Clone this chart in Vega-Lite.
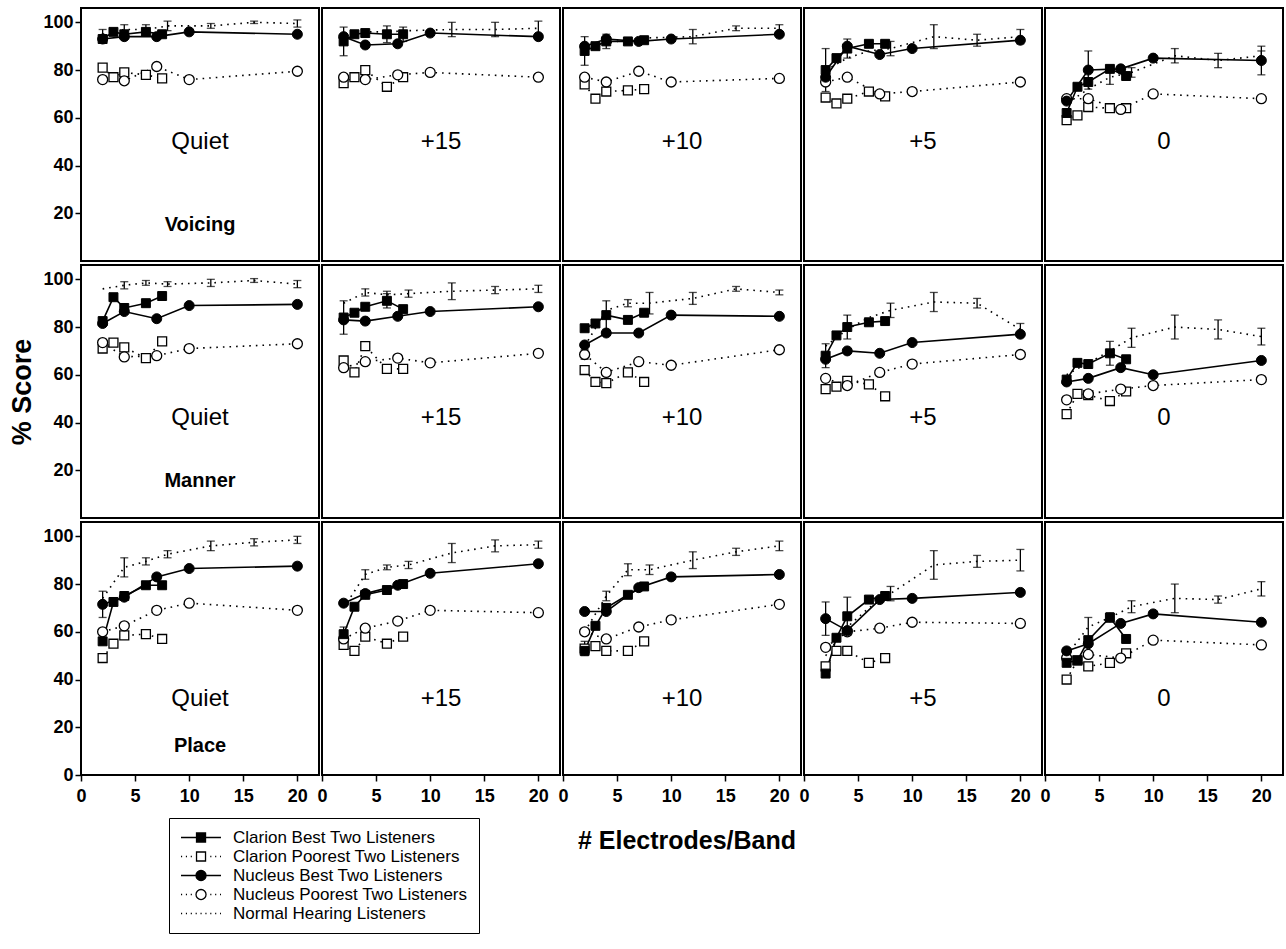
{
"$schema": "https://vega.github.io/schema/vega-lite/v6.json",
"padding": {"left": 8, "top": 7, "right": 2, "bottom": 2},
"background": "white",
"config": {
 "font": "Liberation Sans",
 "view": {"stroke": "black", "strokeWidth": 2},
 "axis": {"grid": false, "domain": false, "ticks": true, "tickColor": "black", "tickWidth": 1.5, "tickSize": 6, "labelColor": "black", "labelFont": "Liberation Sans", "labelFontWeight": "bold", "labelFontSize": 18, "labelPadding": 2, "titleColor": "black", "titleFont": "Liberation Sans", "titleFontSize": 27, "titleFontWeight": "bold", "titlePadding": 6}
},
"datasets": {"d": [
{"f":"Voicing","c":"Quiet","s":"CB","n":2,"v":93},{"f":"Voicing","c":"Quiet","s":"CB","n":3,"v":96},{"f":"Voicing","c":"Quiet","s":"CB","n":4,"v":95},{"f":"Voicing","c":"Quiet","s":"CB","n":6,"v":96},{"f":"Voicing","c":"Quiet","s":"CB","n":7.5,"v":95},
{"f":"Voicing","c":"Quiet","s":"NB","n":2,"v":93},{"f":"Voicing","c":"Quiet","s":"NB","n":4,"v":94},{"f":"Voicing","c":"Quiet","s":"NB","n":7,"v":94},{"f":"Voicing","c":"Quiet","s":"NB","n":10,"v":96},{"f":"Voicing","c":"Quiet","s":"NB","n":20,"v":95},
{"f":"Voicing","c":"Quiet","s":"CP","n":2,"v":81},{"f":"Voicing","c":"Quiet","s":"CP","n":3,"v":77},{"f":"Voicing","c":"Quiet","s":"CP","n":4,"v":79},{"f":"Voicing","c":"Quiet","s":"CP","n":6,"v":78},{"f":"Voicing","c":"Quiet","s":"CP","n":7.5,"v":76.5},
{"f":"Voicing","c":"Quiet","s":"NP","n":2,"v":76},{"f":"Voicing","c":"Quiet","s":"NP","n":4,"v":75.5},{"f":"Voicing","c":"Quiet","s":"NP","n":7,"v":81.5},{"f":"Voicing","c":"Quiet","s":"NP","n":10,"v":76},{"f":"Voicing","c":"Quiet","s":"NP","n":20,"v":79.5},
{"f":"Voicing","c":"Quiet","s":"NH","n":2,"v":95,"e":2},{"f":"Voicing","c":"Quiet","s":"NH","n":4,"v":97,"e":2},{"f":"Voicing","c":"Quiet","s":"NH","n":6,"v":97,"e":2},{"f":"Voicing","c":"Quiet","s":"NH","n":8,"v":98.5,"e":2},{"f":"Voicing","c":"Quiet","s":"NH","n":12,"v":98.5,"e":1},{"f":"Voicing","c":"Quiet","s":"NH","n":16,"v":100,"e":0.5},{"f":"Voicing","c":"Quiet","s":"NH","n":20,"v":99.5,"e":1.5},
{"f":"Voicing","c":"+15","s":"CB","n":2,"v":92,"e":6},{"f":"Voicing","c":"+15","s":"CB","n":3,"v":95},{"f":"Voicing","c":"+15","s":"CB","n":4,"v":95.5},{"f":"Voicing","c":"+15","s":"CB","n":6,"v":95,"e":3.5},{"f":"Voicing","c":"+15","s":"CB","n":7.5,"v":95,"e":3},
{"f":"Voicing","c":"+15","s":"NB","n":2,"v":94},{"f":"Voicing","c":"+15","s":"NB","n":4,"v":90.5},{"f":"Voicing","c":"+15","s":"NB","n":7,"v":91},{"f":"Voicing","c":"+15","s":"NB","n":10,"v":95.5},{"f":"Voicing","c":"+15","s":"NB","n":20,"v":94},
{"f":"Voicing","c":"+15","s":"CP","n":2,"v":74.5},{"f":"Voicing","c":"+15","s":"CP","n":3,"v":77},{"f":"Voicing","c":"+15","s":"CP","n":4,"v":80},{"f":"Voicing","c":"+15","s":"CP","n":6,"v":73},{"f":"Voicing","c":"+15","s":"CP","n":7.5,"v":77},
{"f":"Voicing","c":"+15","s":"NP","n":2,"v":77},{"f":"Voicing","c":"+15","s":"NP","n":4,"v":76},{"f":"Voicing","c":"+15","s":"NP","n":7,"v":78},{"f":"Voicing","c":"+15","s":"NP","n":10,"v":79},{"f":"Voicing","c":"+15","s":"NP","n":20,"v":77},
{"f":"Voicing","c":"+15","s":"NH","n":2,"v":95},{"f":"Voicing","c":"+15","s":"NH","n":4,"v":96},{"f":"Voicing","c":"+15","s":"NH","n":6,"v":96},{"f":"Voicing","c":"+15","s":"NH","n":8,"v":96.5},{"f":"Voicing","c":"+15","s":"NH","n":12,"v":97,"e":3},{"f":"Voicing","c":"+15","s":"NH","n":16,"v":97,"e":3},{"f":"Voicing","c":"+15","s":"NH","n":20,"v":97.5,"e":3},
{"f":"Voicing","c":"+10","s":"CB","n":2,"v":88,"e":6},{"f":"Voicing","c":"+10","s":"CB","n":3,"v":90},{"f":"Voicing","c":"+10","s":"CB","n":4,"v":92,"e":3},{"f":"Voicing","c":"+10","s":"CB","n":6,"v":92},{"f":"Voicing","c":"+10","s":"CB","n":7.5,"v":92.5},
{"f":"Voicing","c":"+10","s":"NB","n":2,"v":90},{"f":"Voicing","c":"+10","s":"NB","n":4,"v":93},{"f":"Voicing","c":"+10","s":"NB","n":7,"v":92},{"f":"Voicing","c":"+10","s":"NB","n":10,"v":93},{"f":"Voicing","c":"+10","s":"NB","n":20,"v":95},
{"f":"Voicing","c":"+10","s":"CP","n":2,"v":74},{"f":"Voicing","c":"+10","s":"CP","n":3,"v":68},{"f":"Voicing","c":"+10","s":"CP","n":4,"v":71},{"f":"Voicing","c":"+10","s":"CP","n":6,"v":71.5},{"f":"Voicing","c":"+10","s":"CP","n":7.5,"v":72},
{"f":"Voicing","c":"+10","s":"NP","n":2,"v":77},{"f":"Voicing","c":"+10","s":"NP","n":4,"v":75},{"f":"Voicing","c":"+10","s":"NP","n":7,"v":79.5},{"f":"Voicing","c":"+10","s":"NP","n":10,"v":75},{"f":"Voicing","c":"+10","s":"NP","n":20,"v":76.5},
{"f":"Voicing","c":"+10","s":"NH","n":2,"v":89},{"f":"Voicing","c":"+10","s":"NH","n":4,"v":91},{"f":"Voicing","c":"+10","s":"NH","n":6,"v":93},{"f":"Voicing","c":"+10","s":"NH","n":8,"v":93.5},{"f":"Voicing","c":"+10","s":"NH","n":12,"v":94,"e":3},{"f":"Voicing","c":"+10","s":"NH","n":16,"v":97.5,"e":1},{"f":"Voicing","c":"+10","s":"NH","n":20,"v":97.5,"e":1.5},
{"f":"Voicing","c":"+5","s":"CB","n":2,"v":80,"e":9},{"f":"Voicing","c":"+5","s":"CB","n":3,"v":85},{"f":"Voicing","c":"+5","s":"CB","n":4,"v":89,"e":4},{"f":"Voicing","c":"+5","s":"CB","n":6,"v":91},{"f":"Voicing","c":"+5","s":"CB","n":7.5,"v":91},
{"f":"Voicing","c":"+5","s":"NB","n":2,"v":77},{"f":"Voicing","c":"+5","s":"NB","n":4,"v":90},{"f":"Voicing","c":"+5","s":"NB","n":7,"v":86.5},{"f":"Voicing","c":"+5","s":"NB","n":10,"v":89},{"f":"Voicing","c":"+5","s":"NB","n":20,"v":92.5},
{"f":"Voicing","c":"+5","s":"CP","n":2,"v":68.5},{"f":"Voicing","c":"+5","s":"CP","n":3,"v":66},{"f":"Voicing","c":"+5","s":"CP","n":4,"v":68},{"f":"Voicing","c":"+5","s":"CP","n":6,"v":71},{"f":"Voicing","c":"+5","s":"CP","n":7.5,"v":69},
{"f":"Voicing","c":"+5","s":"NP","n":2,"v":75},{"f":"Voicing","c":"+5","s":"NP","n":4,"v":77},{"f":"Voicing","c":"+5","s":"NP","n":7,"v":70},{"f":"Voicing","c":"+5","s":"NP","n":10,"v":71},{"f":"Voicing","c":"+5","s":"NP","n":20,"v":75},
{"f":"Voicing","c":"+5","s":"NH","n":2,"v":80},{"f":"Voicing","c":"+5","s":"NH","n":4,"v":85},{"f":"Voicing","c":"+5","s":"NH","n":6,"v":88},{"f":"Voicing","c":"+5","s":"NH","n":8,"v":89,"e":3},{"f":"Voicing","c":"+5","s":"NH","n":12,"v":94,"e":5},{"f":"Voicing","c":"+5","s":"NH","n":16,"v":92.5,"e":2.5},{"f":"Voicing","c":"+5","s":"NH","n":20,"v":94,"e":3},
{"f":"Voicing","c":"0","s":"CB","n":2,"v":62},{"f":"Voicing","c":"0","s":"CB","n":3,"v":73},{"f":"Voicing","c":"0","s":"CB","n":4,"v":75},{"f":"Voicing","c":"0","s":"CB","n":6,"v":80.5},{"f":"Voicing","c":"0","s":"CB","n":7.5,"v":77.5},
{"f":"Voicing","c":"0","s":"NB","n":2,"v":67},{"f":"Voicing","c":"0","s":"NB","n":4,"v":80,"e":8},{"f":"Voicing","c":"0","s":"NB","n":7,"v":80.5},{"f":"Voicing","c":"0","s":"NB","n":10,"v":85},{"f":"Voicing","c":"0","s":"NB","n":20,"v":84,"e":6},
{"f":"Voicing","c":"0","s":"CP","n":2,"v":59},{"f":"Voicing","c":"0","s":"CP","n":3,"v":61},{"f":"Voicing","c":"0","s":"CP","n":4,"v":64.5},{"f":"Voicing","c":"0","s":"CP","n":6,"v":64},{"f":"Voicing","c":"0","s":"CP","n":7.5,"v":64},
{"f":"Voicing","c":"0","s":"NP","n":2,"v":68},{"f":"Voicing","c":"0","s":"NP","n":4,"v":68},{"f":"Voicing","c":"0","s":"NP","n":7,"v":63.5},{"f":"Voicing","c":"0","s":"NP","n":10,"v":70},{"f":"Voicing","c":"0","s":"NP","n":20,"v":68},
{"f":"Voicing","c":"0","s":"NH","n":2,"v":66},{"f":"Voicing","c":"0","s":"NH","n":4,"v":72},{"f":"Voicing","c":"0","s":"NH","n":6,"v":77,"e":3},{"f":"Voicing","c":"0","s":"NH","n":8,"v":79,"e":2},{"f":"Voicing","c":"0","s":"NH","n":12,"v":86,"e":3},{"f":"Voicing","c":"0","s":"NH","n":16,"v":84,"e":3},{"f":"Voicing","c":"0","s":"NH","n":20,"v":86,"e":2},
{"f":"Manner","c":"Quiet","s":"CB","n":2,"v":82.5},{"f":"Manner","c":"Quiet","s":"CB","n":3,"v":92.5},{"f":"Manner","c":"Quiet","s":"CB","n":4,"v":88},{"f":"Manner","c":"Quiet","s":"CB","n":6,"v":90},{"f":"Manner","c":"Quiet","s":"CB","n":7.5,"v":93},
{"f":"Manner","c":"Quiet","s":"NB","n":2,"v":81.5},{"f":"Manner","c":"Quiet","s":"NB","n":4,"v":86.5},{"f":"Manner","c":"Quiet","s":"NB","n":7,"v":83.5},{"f":"Manner","c":"Quiet","s":"NB","n":10,"v":89},{"f":"Manner","c":"Quiet","s":"NB","n":20,"v":89.5},
{"f":"Manner","c":"Quiet","s":"CP","n":2,"v":71},{"f":"Manner","c":"Quiet","s":"CP","n":3,"v":73.5},{"f":"Manner","c":"Quiet","s":"CP","n":4,"v":71.5},{"f":"Manner","c":"Quiet","s":"CP","n":6,"v":67},{"f":"Manner","c":"Quiet","s":"CP","n":7.5,"v":74},
{"f":"Manner","c":"Quiet","s":"NP","n":2,"v":73.5},{"f":"Manner","c":"Quiet","s":"NP","n":4,"v":67.5},{"f":"Manner","c":"Quiet","s":"NP","n":7,"v":68},{"f":"Manner","c":"Quiet","s":"NP","n":10,"v":71},{"f":"Manner","c":"Quiet","s":"NP","n":20,"v":73},
{"f":"Manner","c":"Quiet","s":"NH","n":2,"v":96},{"f":"Manner","c":"Quiet","s":"NH","n":4,"v":97.5,"e":1.5},{"f":"Manner","c":"Quiet","s":"NH","n":6,"v":98.5,"e":1},{"f":"Manner","c":"Quiet","s":"NH","n":8,"v":98,"e":1},{"f":"Manner","c":"Quiet","s":"NH","n":12,"v":98.5,"e":1.5},{"f":"Manner","c":"Quiet","s":"NH","n":16,"v":99.5,"e":0.8},{"f":"Manner","c":"Quiet","s":"NH","n":20,"v":98,"e":1.5},
{"f":"Manner","c":"+15","s":"CB","n":2,"v":84,"e":7},{"f":"Manner","c":"+15","s":"CB","n":3,"v":86},{"f":"Manner","c":"+15","s":"CB","n":4,"v":88.5},{"f":"Manner","c":"+15","s":"CB","n":6,"v":91,"e":3},{"f":"Manner","c":"+15","s":"CB","n":7.5,"v":87.5},
{"f":"Manner","c":"+15","s":"NB","n":2,"v":83},{"f":"Manner","c":"+15","s":"NB","n":4,"v":82.5},{"f":"Manner","c":"+15","s":"NB","n":7,"v":84.5},{"f":"Manner","c":"+15","s":"NB","n":10,"v":86.5},{"f":"Manner","c":"+15","s":"NB","n":20,"v":88.5},
{"f":"Manner","c":"+15","s":"CP","n":2,"v":66},{"f":"Manner","c":"+15","s":"CP","n":3,"v":61},{"f":"Manner","c":"+15","s":"CP","n":4,"v":72},{"f":"Manner","c":"+15","s":"CP","n":6,"v":62.5},{"f":"Manner","c":"+15","s":"CP","n":7.5,"v":62.5},
{"f":"Manner","c":"+15","s":"NP","n":2,"v":63},{"f":"Manner","c":"+15","s":"NP","n":4,"v":65.5},{"f":"Manner","c":"+15","s":"NP","n":7,"v":67},{"f":"Manner","c":"+15","s":"NP","n":10,"v":65},{"f":"Manner","c":"+15","s":"NP","n":20,"v":69},
{"f":"Manner","c":"+15","s":"NH","n":2,"v":90},{"f":"Manner","c":"+15","s":"NH","n":4,"v":94.5,"e":1.5},{"f":"Manner","c":"+15","s":"NH","n":6,"v":93.5,"e":1.5},{"f":"Manner","c":"+15","s":"NH","n":8,"v":94,"e":1.5},{"f":"Manner","c":"+15","s":"NH","n":12,"v":95,"e":3.5},{"f":"Manner","c":"+15","s":"NH","n":16,"v":95.5,"e":1.5},{"f":"Manner","c":"+15","s":"NH","n":20,"v":96,"e":1.5},
{"f":"Manner","c":"+10","s":"CB","n":2,"v":79.5},{"f":"Manner","c":"+10","s":"CB","n":3,"v":81.5},{"f":"Manner","c":"+10","s":"CB","n":4,"v":85,"e":6},{"f":"Manner","c":"+10","s":"CB","n":6,"v":83},{"f":"Manner","c":"+10","s":"CB","n":7.5,"v":86},
{"f":"Manner","c":"+10","s":"NB","n":2,"v":72.5},{"f":"Manner","c":"+10","s":"NB","n":4,"v":77.5},{"f":"Manner","c":"+10","s":"NB","n":7,"v":77.5},{"f":"Manner","c":"+10","s":"NB","n":10,"v":85},{"f":"Manner","c":"+10","s":"NB","n":20,"v":84.5},
{"f":"Manner","c":"+10","s":"CP","n":2,"v":62},{"f":"Manner","c":"+10","s":"CP","n":3,"v":57},{"f":"Manner","c":"+10","s":"CP","n":4,"v":56.5},{"f":"Manner","c":"+10","s":"CP","n":6,"v":61},{"f":"Manner","c":"+10","s":"CP","n":7.5,"v":57},
{"f":"Manner","c":"+10","s":"NP","n":2,"v":68.5,"e":2},{"f":"Manner","c":"+10","s":"NP","n":4,"v":61},{"f":"Manner","c":"+10","s":"NP","n":7,"v":65.5},{"f":"Manner","c":"+10","s":"NP","n":10,"v":64},{"f":"Manner","c":"+10","s":"NP","n":20,"v":70.5},
{"f":"Manner","c":"+10","s":"NH","n":2,"v":72},{"f":"Manner","c":"+10","s":"NH","n":4,"v":87},{"f":"Manner","c":"+10","s":"NH","n":6,"v":90,"e":1.5},{"f":"Manner","c":"+10","s":"NH","n":8,"v":90,"e":4.5},{"f":"Manner","c":"+10","s":"NH","n":12,"v":92,"e":2.5},{"f":"Manner","c":"+10","s":"NH","n":16,"v":96,"e":1},{"f":"Manner","c":"+10","s":"NH","n":20,"v":94.5,"e":1},
{"f":"Manner","c":"+5","s":"CB","n":2,"v":68,"e":5},{"f":"Manner","c":"+5","s":"CB","n":3,"v":76.5},{"f":"Manner","c":"+5","s":"CB","n":4,"v":80,"e":5},{"f":"Manner","c":"+5","s":"CB","n":6,"v":82},{"f":"Manner","c":"+5","s":"CB","n":7.5,"v":82.5},
{"f":"Manner","c":"+5","s":"NB","n":2,"v":66.5},{"f":"Manner","c":"+5","s":"NB","n":4,"v":70},{"f":"Manner","c":"+5","s":"NB","n":7,"v":69},{"f":"Manner","c":"+5","s":"NB","n":10,"v":73.5},{"f":"Manner","c":"+5","s":"NB","n":20,"v":77},
{"f":"Manner","c":"+5","s":"CP","n":2,"v":54},{"f":"Manner","c":"+5","s":"CP","n":3,"v":55},{"f":"Manner","c":"+5","s":"CP","n":4,"v":57.5},{"f":"Manner","c":"+5","s":"CP","n":6,"v":56},{"f":"Manner","c":"+5","s":"CP","n":7.5,"v":51},
{"f":"Manner","c":"+5","s":"NP","n":2,"v":58.5},{"f":"Manner","c":"+5","s":"NP","n":4,"v":55.5},{"f":"Manner","c":"+5","s":"NP","n":7,"v":61},{"f":"Manner","c":"+5","s":"NP","n":10,"v":64.5},{"f":"Manner","c":"+5","s":"NP","n":20,"v":68.5},
{"f":"Manner","c":"+5","s":"NH","n":2,"v":72},{"f":"Manner","c":"+5","s":"NH","n":4,"v":79},{"f":"Manner","c":"+5","s":"NH","n":6,"v":84},{"f":"Manner","c":"+5","s":"NH","n":8,"v":87,"e":3},{"f":"Manner","c":"+5","s":"NH","n":12,"v":90.5,"e":4},{"f":"Manner","c":"+5","s":"NH","n":16,"v":90,"e":2},{"f":"Manner","c":"+5","s":"NH","n":20,"v":79,"e":2.5},
{"f":"Manner","c":"0","s":"CB","n":2,"v":58},{"f":"Manner","c":"0","s":"CB","n":3,"v":65},{"f":"Manner","c":"0","s":"CB","n":4,"v":64.5},{"f":"Manner","c":"0","s":"CB","n":6,"v":69,"e":5},{"f":"Manner","c":"0","s":"CB","n":7.5,"v":66.5},
{"f":"Manner","c":"0","s":"NB","n":2,"v":57},{"f":"Manner","c":"0","s":"NB","n":4,"v":58.5},{"f":"Manner","c":"0","s":"NB","n":7,"v":63},{"f":"Manner","c":"0","s":"NB","n":10,"v":60},{"f":"Manner","c":"0","s":"NB","n":20,"v":66},
{"f":"Manner","c":"0","s":"CP","n":2,"v":43.5},{"f":"Manner","c":"0","s":"CP","n":3,"v":52},{"f":"Manner","c":"0","s":"CP","n":4,"v":51.5},{"f":"Manner","c":"0","s":"CP","n":6,"v":49},{"f":"Manner","c":"0","s":"CP","n":7.5,"v":53},
{"f":"Manner","c":"0","s":"NP","n":2,"v":49.5},{"f":"Manner","c":"0","s":"NP","n":4,"v":52},{"f":"Manner","c":"0","s":"NP","n":7,"v":54},{"f":"Manner","c":"0","s":"NP","n":10,"v":55.5},{"f":"Manner","c":"0","s":"NP","n":20,"v":58},
{"f":"Manner","c":"0","s":"NH","n":2,"v":60},{"f":"Manner","c":"0","s":"NH","n":4,"v":65},{"f":"Manner","c":"0","s":"NH","n":6,"v":70},{"f":"Manner","c":"0","s":"NH","n":8,"v":75.5,"e":4},{"f":"Manner","c":"0","s":"NH","n":12,"v":80,"e":5},{"f":"Manner","c":"0","s":"NH","n":16,"v":79,"e":4},{"f":"Manner","c":"0","s":"NH","n":20,"v":76,"e":3.5},
{"f":"Place","c":"Quiet","s":"CB","n":2,"v":56},{"f":"Place","c":"Quiet","s":"CB","n":3,"v":72.5},{"f":"Place","c":"Quiet","s":"CB","n":4,"v":75},{"f":"Place","c":"Quiet","s":"CB","n":6,"v":79.5},{"f":"Place","c":"Quiet","s":"CB","n":7.5,"v":79.5},
{"f":"Place","c":"Quiet","s":"NB","n":2,"v":71.5,"e":5.5},{"f":"Place","c":"Quiet","s":"NB","n":4,"v":74.5},{"f":"Place","c":"Quiet","s":"NB","n":7,"v":83},{"f":"Place","c":"Quiet","s":"NB","n":10,"v":86.5},{"f":"Place","c":"Quiet","s":"NB","n":20,"v":87.5},
{"f":"Place","c":"Quiet","s":"CP","n":2,"v":49},{"f":"Place","c":"Quiet","s":"CP","n":3,"v":55},{"f":"Place","c":"Quiet","s":"CP","n":4,"v":58.5},{"f":"Place","c":"Quiet","s":"CP","n":6,"v":59},{"f":"Place","c":"Quiet","s":"CP","n":7.5,"v":57},
{"f":"Place","c":"Quiet","s":"NP","n":2,"v":60},{"f":"Place","c":"Quiet","s":"NP","n":4,"v":62.5},{"f":"Place","c":"Quiet","s":"NP","n":7,"v":69},{"f":"Place","c":"Quiet","s":"NP","n":10,"v":72},{"f":"Place","c":"Quiet","s":"NP","n":20,"v":69},
{"f":"Place","c":"Quiet","s":"NH","n":2,"v":74},{"f":"Place","c":"Quiet","s":"NH","n":4,"v":87,"e":4},{"f":"Place","c":"Quiet","s":"NH","n":6,"v":89.5,"e":1.5},{"f":"Place","c":"Quiet","s":"NH","n":8,"v":92.5,"e":1.5},{"f":"Place","c":"Quiet","s":"NH","n":12,"v":96,"e":2},{"f":"Place","c":"Quiet","s":"NH","n":16,"v":97.5,"e":1.5},{"f":"Place","c":"Quiet","s":"NH","n":20,"v":98.5,"e":1.5},
{"f":"Place","c":"+15","s":"CB","n":2,"v":59,"e":3},{"f":"Place","c":"+15","s":"CB","n":3,"v":70.5},{"f":"Place","c":"+15","s":"CB","n":4,"v":75.5},{"f":"Place","c":"+15","s":"CB","n":6,"v":77.5},{"f":"Place","c":"+15","s":"CB","n":7.5,"v":80},
{"f":"Place","c":"+15","s":"NB","n":2,"v":72},{"f":"Place","c":"+15","s":"NB","n":4,"v":76},{"f":"Place","c":"+15","s":"NB","n":7,"v":79.5},{"f":"Place","c":"+15","s":"NB","n":10,"v":84.5},{"f":"Place","c":"+15","s":"NB","n":20,"v":88.5},
{"f":"Place","c":"+15","s":"CP","n":2,"v":54.5},{"f":"Place","c":"+15","s":"CP","n":3,"v":52},{"f":"Place","c":"+15","s":"CP","n":4,"v":58},{"f":"Place","c":"+15","s":"CP","n":6,"v":55},{"f":"Place","c":"+15","s":"CP","n":7.5,"v":58},
{"f":"Place","c":"+15","s":"NP","n":2,"v":57},{"f":"Place","c":"+15","s":"NP","n":4,"v":61.5},{"f":"Place","c":"+15","s":"NP","n":7,"v":64.5},{"f":"Place","c":"+15","s":"NP","n":10,"v":69},{"f":"Place","c":"+15","s":"NP","n":20,"v":68},
{"f":"Place","c":"+15","s":"NH","n":2,"v":70},{"f":"Place","c":"+15","s":"NH","n":4,"v":84,"e":2},{"f":"Place","c":"+15","s":"NH","n":6,"v":87,"e":1},{"f":"Place","c":"+15","s":"NH","n":8,"v":88,"e":1.5},{"f":"Place","c":"+15","s":"NH","n":12,"v":93,"e":4},{"f":"Place","c":"+15","s":"NH","n":16,"v":96,"e":2.5},{"f":"Place","c":"+15","s":"NH","n":20,"v":96.5,"e":1.5},
{"f":"Place","c":"+10","s":"CB","n":2,"v":52},{"f":"Place","c":"+10","s":"CB","n":3,"v":62.5},{"f":"Place","c":"+10","s":"CB","n":4,"v":70},{"f":"Place","c":"+10","s":"CB","n":6,"v":75.5},{"f":"Place","c":"+10","s":"CB","n":7.5,"v":79},
{"f":"Place","c":"+10","s":"NB","n":2,"v":68.5},{"f":"Place","c":"+10","s":"NB","n":4,"v":68.5},{"f":"Place","c":"+10","s":"NB","n":7,"v":78.5},{"f":"Place","c":"+10","s":"NB","n":10,"v":83},{"f":"Place","c":"+10","s":"NB","n":20,"v":84},
{"f":"Place","c":"+10","s":"CP","n":2,"v":53,"e":3},{"f":"Place","c":"+10","s":"CP","n":3,"v":54},{"f":"Place","c":"+10","s":"CP","n":4,"v":52},{"f":"Place","c":"+10","s":"CP","n":6,"v":52},{"f":"Place","c":"+10","s":"CP","n":7.5,"v":56},
{"f":"Place","c":"+10","s":"NP","n":2,"v":60},{"f":"Place","c":"+10","s":"NP","n":4,"v":57},{"f":"Place","c":"+10","s":"NP","n":7,"v":62},{"f":"Place","c":"+10","s":"NP","n":10,"v":65},{"f":"Place","c":"+10","s":"NP","n":20,"v":71.5},
{"f":"Place","c":"+10","s":"NH","n":2,"v":60},{"f":"Place","c":"+10","s":"NH","n":4,"v":75,"e":2},{"f":"Place","c":"+10","s":"NH","n":6,"v":86,"e":2.5},{"f":"Place","c":"+10","s":"NH","n":8,"v":86,"e":2},{"f":"Place","c":"+10","s":"NH","n":12,"v":90,"e":3.5},{"f":"Place","c":"+10","s":"NH","n":16,"v":93.5,"e":1.5},{"f":"Place","c":"+10","s":"NH","n":20,"v":96,"e":2},
{"f":"Place","c":"+5","s":"CB","n":2,"v":42.5},{"f":"Place","c":"+5","s":"CB","n":3,"v":57.5},{"f":"Place","c":"+5","s":"CB","n":4,"v":66.5,"e":8},{"f":"Place","c":"+5","s":"CB","n":6,"v":73.5},{"f":"Place","c":"+5","s":"CB","n":7.5,"v":75},
{"f":"Place","c":"+5","s":"NB","n":2,"v":65.5,"e":7},{"f":"Place","c":"+5","s":"NB","n":4,"v":60.5},{"f":"Place","c":"+5","s":"NB","n":7,"v":73.5},{"f":"Place","c":"+5","s":"NB","n":10,"v":74},{"f":"Place","c":"+5","s":"NB","n":20,"v":76.5},
{"f":"Place","c":"+5","s":"CP","n":2,"v":45.5},{"f":"Place","c":"+5","s":"CP","n":3,"v":52},{"f":"Place","c":"+5","s":"CP","n":4,"v":52},{"f":"Place","c":"+5","s":"CP","n":6,"v":47},{"f":"Place","c":"+5","s":"CP","n":7.5,"v":49},
{"f":"Place","c":"+5","s":"NP","n":2,"v":53.5},{"f":"Place","c":"+5","s":"NP","n":4,"v":60},{"f":"Place","c":"+5","s":"NP","n":7,"v":61.5},{"f":"Place","c":"+5","s":"NP","n":10,"v":64},{"f":"Place","c":"+5","s":"NP","n":20,"v":63.5},
{"f":"Place","c":"+5","s":"NH","n":2,"v":50},{"f":"Place","c":"+5","s":"NH","n":4,"v":62},{"f":"Place","c":"+5","s":"NH","n":6,"v":70},{"f":"Place","c":"+5","s":"NH","n":8,"v":76,"e":3},{"f":"Place","c":"+5","s":"NH","n":12,"v":88,"e":6},{"f":"Place","c":"+5","s":"NH","n":16,"v":89.5,"e":2.5},{"f":"Place","c":"+5","s":"NH","n":20,"v":90,"e":4.5},
{"f":"Place","c":"0","s":"CB","n":2,"v":47},{"f":"Place","c":"0","s":"CB","n":3,"v":48},{"f":"Place","c":"0","s":"CB","n":4,"v":56.5},{"f":"Place","c":"0","s":"CB","n":6,"v":66},{"f":"Place","c":"0","s":"CB","n":7.5,"v":57},
{"f":"Place","c":"0","s":"NB","n":2,"v":52},{"f":"Place","c":"0","s":"NB","n":4,"v":55},{"f":"Place","c":"0","s":"NB","n":7,"v":63.5},{"f":"Place","c":"0","s":"NB","n":10,"v":67.5},{"f":"Place","c":"0","s":"NB","n":20,"v":64},
{"f":"Place","c":"0","s":"CP","n":2,"v":40},{"f":"Place","c":"0","s":"CP","n":3,"v":48},{"f":"Place","c":"0","s":"CP","n":4,"v":45.5},{"f":"Place","c":"0","s":"CP","n":6,"v":47},{"f":"Place","c":"0","s":"CP","n":7.5,"v":51},
{"f":"Place","c":"0","s":"NP","n":2,"v":49},{"f":"Place","c":"0","s":"NP","n":4,"v":50.5},{"f":"Place","c":"0","s":"NP","n":7,"v":49},{"f":"Place","c":"0","s":"NP","n":10,"v":56.5},{"f":"Place","c":"0","s":"NP","n":20,"v":54.5},
{"f":"Place","c":"0","s":"NH","n":2,"v":50},{"f":"Place","c":"0","s":"NH","n":4,"v":62,"e":4},{"f":"Place","c":"0","s":"NH","n":6,"v":66,"e":2},{"f":"Place","c":"0","s":"NH","n":8,"v":70.5,"e":2.5},{"f":"Place","c":"0","s":"NH","n":12,"v":74,"e":6},{"f":"Place","c":"0","s":"NH","n":16,"v":73.5,"e":1.5},{"f":"Place","c":"0","s":"NH","n":20,"v":78,"e":3}
]},
"spacing": 2,
"vconcat": [
{
 "data": {"name": "d"},
 "transform": [{"filter": "datum.f == 'Voicing'"}],
 "facet": {"column": {"field": "c", "type": "nominal", "sort": ["Quiet","+15","+10","+5","0"], "title": null, "header": {"labels": false}}},
 "spacing": 3,
 "bounds": "flush",
 "spec": {
  "width": 238, "height": 253,
  "encoding": {
   "x": {"field": "n", "type": "quantitative", "scale": {"domain": [0, 22], "nice": false, "zero": false}, "axis": null},
   "y": {"field": "v", "type": "quantitative", "scale": {"domain": [0, 106], "nice": false}, "axis": {"values": [20, 40, 60, 80, 100], "title": "% Score", "titleOpacity": 0}}
  },
  "layer": [
   {"transform": [{"filter": "datum.s == 'NH'"}], "mark": {"type": "line", "color": "black", "strokeWidth": 1.6, "strokeDash": [1.6, 5]}},
   {"transform": [{"filter": "datum.s == 'CP'"}], "mark": {"type": "line", "color": "black", "strokeWidth": 1.6, "strokeDash": [1.6, 5]}},
   {"transform": [{"filter": "datum.s == 'NP'"}], "mark": {"type": "line", "color": "black", "strokeWidth": 1.6, "strokeDash": [1.6, 5]}},
   {"transform": [{"filter": "datum.s == 'CB'"}], "mark": {"type": "line", "color": "black", "strokeWidth": 1.6}},
   {"transform": [{"filter": "datum.s == 'NB'"}], "mark": {"type": "line", "color": "black", "strokeWidth": 1.6}},
   {"transform": [{"filter": "isValid(datum.e)"}], "mark": {"type": "errorbar", "color": "black", "ticks": {"size": 8, "thickness": 1.3}, "rule": {"strokeWidth": 1.3}}, "encoding": {"yError": {"field": "e"}}},
   {"transform": [{"filter": "datum.s == 'CP'"}], "mark": {"type": "point", "shape": "square", "size": 80, "filled": true, "fill": "white", "stroke": "black", "strokeWidth": 1.3, "opacity": 1}},
   {"transform": [{"filter": "datum.s == 'NP'"}], "mark": {"type": "point", "shape": "circle", "size": 100, "filled": true, "fill": "white", "stroke": "black", "strokeWidth": 1.3, "opacity": 1}},
   {"transform": [{"filter": "datum.s == 'CB'"}], "mark": {"type": "point", "shape": "square", "size": 80, "filled": true, "fill": "black", "stroke": "black", "strokeWidth": 1, "opacity": 1}},
   {"transform": [{"filter": "datum.s == 'NB'"}], "mark": {"type": "point", "shape": "circle", "size": 100, "filled": true, "fill": "black", "stroke": "black", "strokeWidth": 1, "opacity": 1}},
   {"transform": [{"filter": "datum.s == 'NH' && datum.n == 20"}], "mark": {"type": "text", "fontSize": 24, "font": "Liberation Sans", "fill": "black", "opacity": 1, "align": "center", "baseline": "middle"}, "encoding": {"x": {"datum": 11}, "y": {"datum": 50}, "text": {"field": "c", "type": "nominal"}}},
   {"transform": [{"filter": "datum.s == 'NH' && datum.n == 20 && datum.c == 'Quiet'"}], "mark": {"type": "text", "fontSize": 20, "fontWeight": "bold", "font": "Liberation Sans", "fill": "black", "opacity": 1, "align": "center", "baseline": "middle"}, "encoding": {"x": {"datum": 11}, "y": {"datum": 15}, "text": {"field": "f", "type": "nominal"}}}
  ]
 }
},
{
 "data": {"name": "d"},
 "transform": [{"filter": "datum.f == 'Manner'"}],
 "facet": {"column": {"field": "c", "type": "nominal", "sort": ["Quiet","+15","+10","+5","0"], "title": null, "header": {"labels": false}}},
 "spacing": 3,
 "bounds": "flush",
 "spec": {
  "width": 238, "height": 253,
  "encoding": {
   "x": {"field": "n", "type": "quantitative", "scale": {"domain": [0, 22], "nice": false, "zero": false}, "axis": null},
   "y": {"field": "v", "type": "quantitative", "scale": {"domain": [0, 106], "nice": false}, "axis": {"values": [20, 40, 60, 80, 100], "title": "% Score"}}
  },
  "layer": [
   {"transform": [{"filter": "datum.s == 'NH'"}], "mark": {"type": "line", "color": "black", "strokeWidth": 1.6, "strokeDash": [1.6, 5]}},
   {"transform": [{"filter": "datum.s == 'CP'"}], "mark": {"type": "line", "color": "black", "strokeWidth": 1.6, "strokeDash": [1.6, 5]}},
   {"transform": [{"filter": "datum.s == 'NP'"}], "mark": {"type": "line", "color": "black", "strokeWidth": 1.6, "strokeDash": [1.6, 5]}},
   {"transform": [{"filter": "datum.s == 'CB'"}], "mark": {"type": "line", "color": "black", "strokeWidth": 1.6}},
   {"transform": [{"filter": "datum.s == 'NB'"}], "mark": {"type": "line", "color": "black", "strokeWidth": 1.6}},
   {"transform": [{"filter": "isValid(datum.e)"}], "mark": {"type": "errorbar", "color": "black", "ticks": {"size": 8, "thickness": 1.3}, "rule": {"strokeWidth": 1.3}}, "encoding": {"yError": {"field": "e"}}},
   {"transform": [{"filter": "datum.s == 'CP'"}], "mark": {"type": "point", "shape": "square", "size": 80, "filled": true, "fill": "white", "stroke": "black", "strokeWidth": 1.3, "opacity": 1}},
   {"transform": [{"filter": "datum.s == 'NP'"}], "mark": {"type": "point", "shape": "circle", "size": 100, "filled": true, "fill": "white", "stroke": "black", "strokeWidth": 1.3, "opacity": 1}},
   {"transform": [{"filter": "datum.s == 'CB'"}], "mark": {"type": "point", "shape": "square", "size": 80, "filled": true, "fill": "black", "stroke": "black", "strokeWidth": 1, "opacity": 1}},
   {"transform": [{"filter": "datum.s == 'NB'"}], "mark": {"type": "point", "shape": "circle", "size": 100, "filled": true, "fill": "black", "stroke": "black", "strokeWidth": 1, "opacity": 1}},
   {"transform": [{"filter": "datum.s == 'NH' && datum.n == 20"}], "mark": {"type": "text", "fontSize": 24, "font": "Liberation Sans", "fill": "black", "opacity": 1, "align": "center", "baseline": "middle"}, "encoding": {"x": {"datum": 11}, "y": {"datum": 42}, "text": {"field": "c", "type": "nominal"}}},
   {"transform": [{"filter": "datum.s == 'NH' && datum.n == 20 && datum.c == 'Quiet'"}], "mark": {"type": "text", "fontSize": 20, "fontWeight": "bold", "font": "Liberation Sans", "fill": "black", "opacity": 1, "align": "center", "baseline": "middle"}, "encoding": {"x": {"datum": 11}, "y": {"datum": 15.5}, "text": {"field": "f", "type": "nominal"}}}
  ]
 }
},
{
 "data": {"name": "d"},
 "transform": [{"filter": "datum.f == 'Place'"}],
 "facet": {"column": {"field": "c", "type": "nominal", "sort": ["Quiet","+15","+10","+5","0"], "title": "# Electrodes/Band", "header": {"labels": false, "titleOrient": "bottom", "titleFontSize": 25, "titleFontWeight": "bold", "titleColor": "black", "titleFont": "Liberation Sans", "titlePadding": 14}}},
 "spacing": 3,
 "bounds": "flush",
 "spec": {
  "width": 238, "height": 253,
  "encoding": {
   "x": {"field": "n", "type": "quantitative", "scale": {"domain": [0, 22], "nice": false, "zero": false}, "axis": {"values": [0, 5, 10, 15, 20], "title": null, "labelPadding": 6, "labelFlush": false}},
   "y": {"field": "v", "type": "quantitative", "scale": {"domain": [0, 106], "nice": false}, "axis": {"values": [0, 20, 40, 60, 80, 100], "title": "% Score", "titleOpacity": 0}}
  },
  "layer": [
   {"transform": [{"filter": "datum.s == 'NH'"}], "mark": {"type": "line", "color": "black", "strokeWidth": 1.6, "strokeDash": [1.6, 5]}},
   {"transform": [{"filter": "datum.s == 'CP'"}], "mark": {"type": "line", "color": "black", "strokeWidth": 1.6, "strokeDash": [1.6, 5]}},
   {"transform": [{"filter": "datum.s == 'NP'"}], "mark": {"type": "line", "color": "black", "strokeWidth": 1.6, "strokeDash": [1.6, 5]}},
   {"transform": [{"filter": "datum.s == 'CB'"}], "mark": {"type": "line", "color": "black", "strokeWidth": 1.6}},
   {"transform": [{"filter": "datum.s == 'NB'"}], "mark": {"type": "line", "color": "black", "strokeWidth": 1.6}},
   {"transform": [{"filter": "isValid(datum.e)"}], "mark": {"type": "errorbar", "color": "black", "ticks": {"size": 8, "thickness": 1.3}, "rule": {"strokeWidth": 1.3}}, "encoding": {"yError": {"field": "e"}}},
   {"transform": [{"filter": "datum.s == 'CP'"}], "mark": {"type": "point", "shape": "square", "size": 80, "filled": true, "fill": "white", "stroke": "black", "strokeWidth": 1.3, "opacity": 1}},
   {"transform": [{"filter": "datum.s == 'NP'"}], "mark": {"type": "point", "shape": "circle", "size": 100, "filled": true, "fill": "white", "stroke": "black", "strokeWidth": 1.3, "opacity": 1}},
   {"transform": [{"filter": "datum.s == 'CB'"}], "mark": {"type": "point", "shape": "square", "size": 80, "filled": true, "fill": "black", "stroke": "black", "strokeWidth": 1, "opacity": 1}},
   {"transform": [{"filter": "datum.s == 'NB'"}], "mark": {"type": "point", "shape": "circle", "size": 100, "filled": true, "fill": "black", "stroke": "black", "strokeWidth": 1, "opacity": 1}},
   {"transform": [{"filter": "datum.s == 'NH' && datum.n == 20"}], "mark": {"type": "text", "fontSize": 24, "font": "Liberation Sans", "fill": "black", "opacity": 1, "align": "center", "baseline": "middle"}, "encoding": {"x": {"datum": 11}, "y": {"datum": 32}, "text": {"field": "c", "type": "nominal"}}},
   {"transform": [{"filter": "datum.s == 'NH' && datum.n == 20 && datum.c == 'Quiet'"}], "mark": {"type": "text", "fontSize": 20, "fontWeight": "bold", "font": "Liberation Sans", "fill": "black", "opacity": 1, "align": "center", "baseline": "middle"}, "encoding": {"x": {"datum": 11}, "y": {"datum": 12}, "text": {"field": "f", "type": "nominal"}}},
   {"mark": {"type": "point", "opacity": 0, "filled": true, "size": 225},
    "encoding": {
     "shape": {"field": "s", "type": "nominal", "scale": {"domain": ["CB","CP","NB","NP","NH"], "range": [
       "M-1,0H4.33M1.07,-0.6H2.27V0.6H1.07Z",
       "M-1,0H-0.85M-0.35,0H-0.2M0.3,0H0.45M2.9,0H3.05M3.55,0H3.7M4.2,0H4.33M1.07,-0.6H2.27V0.6H1.07Z",
       "M-1,0H4.33M1,0A0.67,0.67,0,1,1,2.34,0A0.67,0.67,0,1,1,1,0Z",
       "M-1,0H-0.85M-0.35,0H-0.2M0.3,0H0.45M2.9,0H3.05M3.55,0H3.7M4.2,0H4.33M1,0A0.67,0.67,0,1,1,2.34,0A0.67,0.67,0,1,1,1,0Z",
       "M-1,0H-0.85M-0.35,0H-0.2M0.3,0H0.45M0.95,0H1.1M1.6,0H1.75M2.25,0H2.4M2.9,0H3.05M3.55,0H3.7M4.2,0H4.33"]},
      "legend": {"title": null, "orient": "none", "legendX": 88, "legendY": 810, "strokeColor": "black", "fillColor": "white", "padding": 11, "labelFontSize": 17, "labelFont": "Liberation Sans", "labelColor": "black", "labelOffset": 36, "labelLimit": 0, "symbolSize": 225, "symbolStrokeWidth": 1.3, "symbolOpacity": 1, "rowPadding": 1,
        "labelExpr": "datum.label == 'CB' ? 'Clarion Best Two Listeners' : datum.label == 'CP' ? 'Clarion Poorest Two Listeners' : datum.label == 'NB' ? 'Nucleus Best Two Listeners' : datum.label == 'NP' ? 'Nucleus Poorest Two Listeners' : 'Normal Hearing Listeners'"}},
     "fill": {"field": "s", "type": "nominal", "scale": {"domain": ["CB","CP","NB","NP","NH"], "range": ["black","white","black","white","white"]},
      "legend": {"title": null, "orient": "none", "legendX": 88, "legendY": 810, "strokeColor": "black", "fillColor": "white", "padding": 11, "labelFontSize": 17, "labelFont": "Liberation Sans", "labelColor": "black", "labelOffset": 36, "labelLimit": 0, "symbolSize": 225, "symbolStrokeWidth": 1.3, "symbolOpacity": 1, "rowPadding": 1,
        "labelExpr": "datum.label == 'CB' ? 'Clarion Best Two Listeners' : datum.label == 'CP' ? 'Clarion Poorest Two Listeners' : datum.label == 'NB' ? 'Nucleus Best Two Listeners' : datum.label == 'NP' ? 'Nucleus Poorest Two Listeners' : 'Normal Hearing Listeners'"}},
     "stroke": {"field": "s", "type": "nominal", "scale": {"domain": ["CB","CP","NB","NP","NH"], "range": ["black","black","black","black","black"]},
      "legend": {"title": null, "orient": "none", "legendX": 88, "legendY": 810, "strokeColor": "black", "fillColor": "white", "padding": 11, "labelFontSize": 17, "labelFont": "Liberation Sans", "labelColor": "black", "labelOffset": 36, "labelLimit": 0, "symbolSize": 225, "symbolStrokeWidth": 1.3, "symbolOpacity": 1, "rowPadding": 1,
        "labelExpr": "datum.label == 'CB' ? 'Clarion Best Two Listeners' : datum.label == 'CP' ? 'Clarion Poorest Two Listeners' : datum.label == 'NB' ? 'Nucleus Best Two Listeners' : datum.label == 'NP' ? 'Nucleus Poorest Two Listeners' : 'Normal Hearing Listeners'"}}
    }}
  ]
 }
}
]
}
